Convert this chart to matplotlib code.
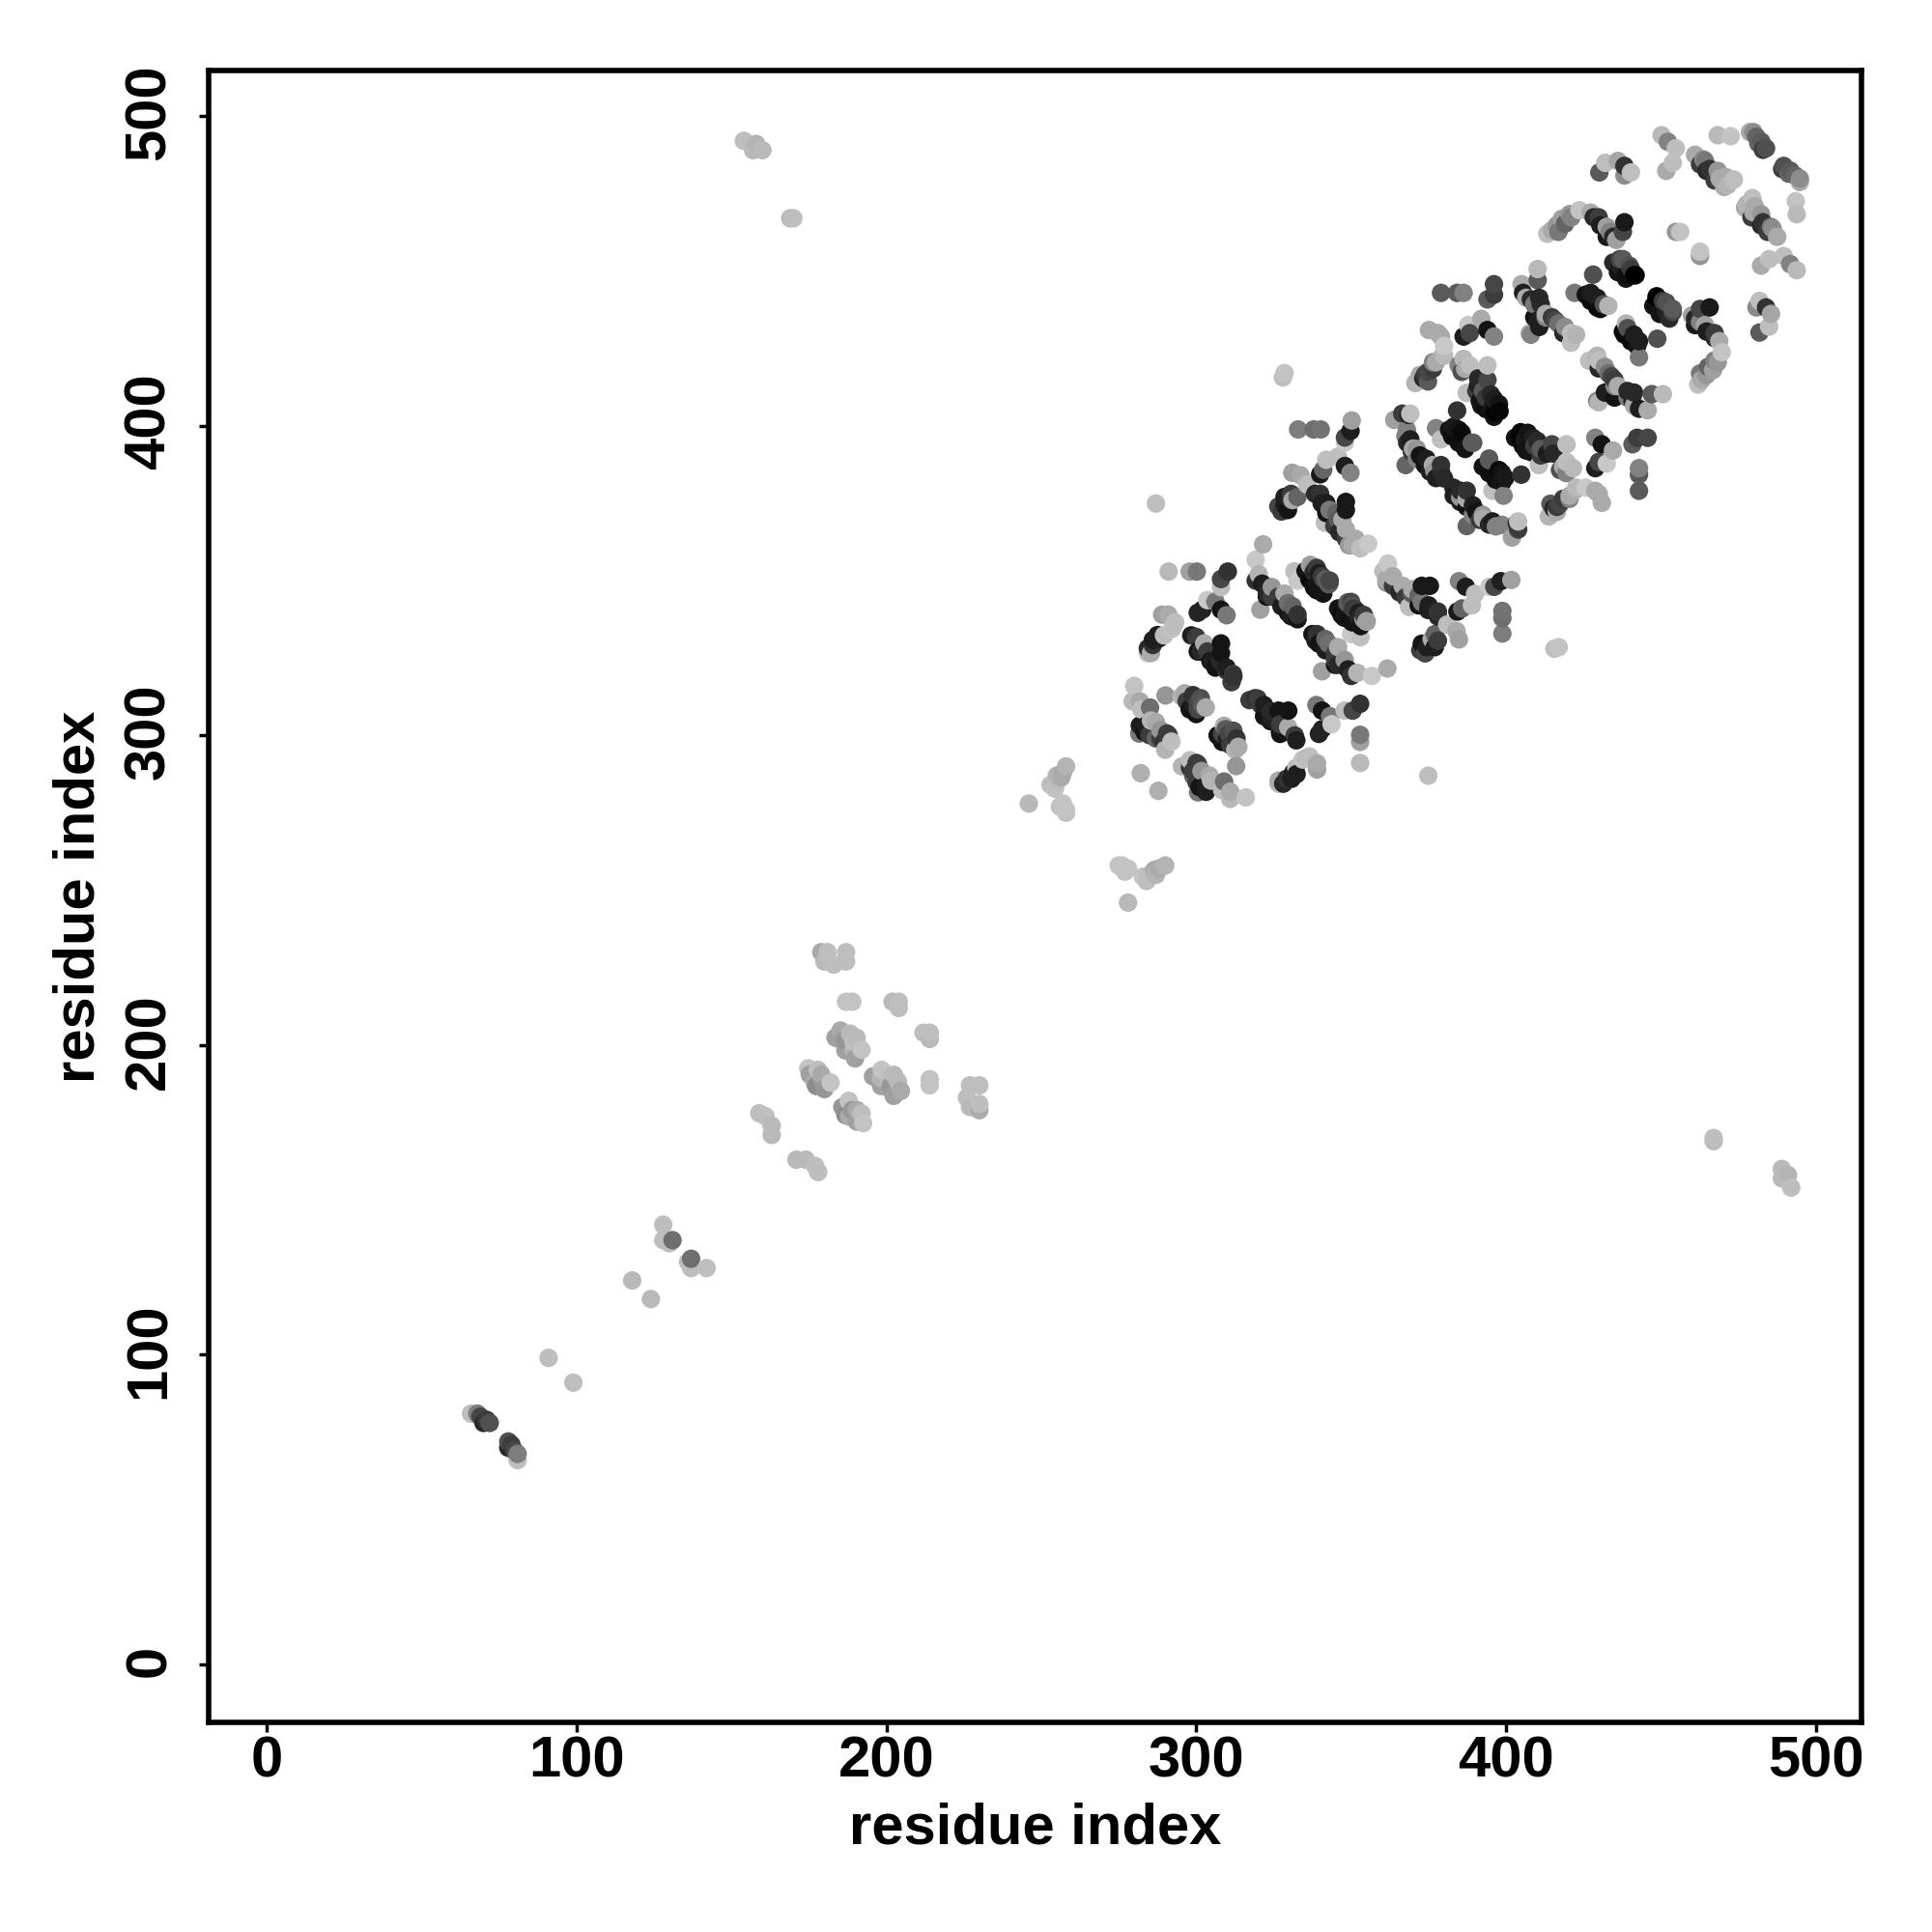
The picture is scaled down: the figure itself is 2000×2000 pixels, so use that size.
import numpy as np
import matplotlib
matplotlib.use("Agg")
import matplotlib.pyplot as plt
from matplotlib.transforms import ScaledTranslation

plt.rcParams['font.family'] = ['Liberation Sans', 'DejaVu Sans']

# contacts above the diagonal, (res_i, res_j, gray level), map is symmetric
low_contacts = [
    (66,81,190),(68,81,125),(69,80,70),(70,78,40),(71,79,60),(72,78,80),
    (91,99,190),(118,124,185),(128,142,190),(128,137,190),(130,136,190),(131,137,110),
]
mid_contacts = [
    (154,492,190),(157,489,185),(158,491,180),(160,489,185),(169,467,185),(170,467,190),
    (159,178,190),(161,177,190),(163,174,185),(163,171,185),
    (174.8,192.5,195),(175.3,190.5,160),(177.4,186.8,140),(177.9,192,190),(176.9,188,170),(179,190.5,170),(179,189,150),(180,185.8,150),(182,187.9,195),
    (179,230,170),(181,230,190),(187,230,190),(180,227,185),(183,226,190),(187,227,190),
    (187,214,195),(189,214,195),(202,214,185),(204,214,190),(204,212,190),
    (183.6,202.4,160),(185.2,204.7,170),(188.3,203.7,185),(185.7,201.4,160),(186.8,201.4,150),(186.8,198.3,160),(189.4,198.3,180),(190.4,202.4,185),(189.4,200.9,190),(189.9,195.7,160),(192,198.5,195),
    (246,278,185),(253,284,190),(254.4,282.8,195),(255,285,190),(256.5,286.5,170),(255,287,180),(257,288,170),(258,290,180),(258,275,195),(258,276,195),(256,277,195),(257,278,195),
]
helix_a = [
    (280,316,195),(279.5,311,185),(281.8,311,170),(282.3,308.4,190),(285.1,309,110),(290.1,312.9,150),
    (281.6,300.6,120),(283.9,303.2,30),(285.4,304.8,180),(288.5,301.7,150),(290.6,300.6,60),(292,298,190),(290,295.4,180),
    (282.1,287.8,175),(296.3,313.6,170),(299,310,30),(299,313,50),(300.5,310.5,70),(301.5,312,80),(303.1,309,170),
    (287,374.9,190),(291.1,352.9,185),(297.9,352.9,160),(300.2,352.9,120),(308,347.9,190),(308,350.5,70),(310.2,352.9,50),
    (300.5,339.6,35),(302,340.6,35),(303.6,343.7,200),(306.2,343.2,120),(308,340.6,20),(309.8,338.8,120),
    (285.4,326.6,170),(286,329.2,50),(288,331.3,30),(289,339,160),(289.6,332.3,190),(291,339,170),(292.7,335.4,190),
    (300,331.8,60),(301.5,327,40),(302.6,329.7,170),(305.2,324,30),(308,329.7,20),(308,326.6,20),(309.8,320.9,60),(312,319,50),(311.4,317.2,60),
    (319.2,356.7,200),(319.2,350,50),(320.2,352,180),(321.6,361.7,170),(320.7,340.6,160),(322.8,345.8,40),(324.4,347.9,150),(326.5,344.8,60),(329.6,342.7,110),(330.6,338.5,30),(332.7,339,50),
    (331.7,353,190),(332.7,350,200),(336.9,355,160),(337.9,352.6,40),(339,347.9,20),(341,350.5,60),(343,349,90),
    (348.8,342.7,90),(348.3,340.6,20),(351.4,340.6,60),(353.5,338.5,40),(355,336.7,170),
    (328,415.6,190),(328.5,417,195),(332.9,398.8,125),(337.9,398.8,110),(340.2,398.8,115),(348,394.6,200),(348,396.2,70),(349.8,398.3,30),(350.2,401.7,160),
    (342,389,190),(345.7,390,190),(340,384.3,25),(341,385.8,100),(348,387,30),(349.8,384.8,130),
    (331,384.8,160),(333.7,384,170),(335.8,381,190),(332.7,377,100),(330.6,376,50),(328.5,374.4,30),(327.5,372.3,60),
    (340,378,50),(342,375,30),(343,372.8,120),(345.7,369.7,90),(341.5,368.7,190),(348.3,375.4,25),(348.3,372.8,25),(348.3,366.6,170),(349.3,361.4,150),(351.4,363.5,170),(353,360.4,190),(355.5,361.9,200),
]
helix_a_dense = [
    (326.5,373.9,70),(328.5,377,30),(330.6,378,60),(329.6,372.8,20),(331.1,376,170),
    (338.4,378,40),(340.5,374.9,30),(342,371.8,20),(344.6,367.6,60),(346.2,365.6,40),(348.3,363.5,60),(350.4,361.4,170),(345.2,371.8,100),(347.2,369.7,170),
    (321.3,349,30),(322.8,344.8,20),(324.4,344.8,60),(327.5,341.7,30),(329.6,339.6,20),(328.5,345.8,170),(331.1,341.7,100),(332.7,337.5,20),
    (335.3,353.1,20),(336.9,350,10),(338.9,346.9,10),(341,345.8,20),(343.1,350,70),(338.9,354.1,60),
    (346.2,340.6,20),(347.8,338,20),(350.4,336.5,20),(350.4,341.7,90),(352.4,339.6,30),(354,337.5,150),
    (284.4,328.1,40),(286,330.8,30),(287.5,332.4,30),(284.4,326.6,190),(292.2,334.4,195),(293.2,336.5,190),
    (298.4,332.3,30),(300.5,327.1,20),(303.6,327.1,60),(304.6,324,15),(306.2,321.9,20),(307.8,324,40),(309.8,321.9,30),(311.9,319.8,60),
    (281.8,303.2,30),(283.3,301.1,20),(284.9,300.1,60),(287,299,100),(288.5,299,60),(287,304.3,170),(289.6,298,50),(291.1,300.1,60),
    (295.3,312.6,180),(296.9,311,60),(297.9,308.4,20),(300,306.9,20),(302,309.5,90),(300.5,308.4,70),
]
helix_b = [
    (363.9,401.9,160),(366.5,403.9,60),(368.5,403.5,40),(369.1,403.9,190),(368,398.7,130),(367.5,396.7,130),(369.1,395.6,30),(370,392.6,170),(367.6,387.3,100),(371.2,392.5,150),(374.3,389.3,30),(376.4,387.3,170),(379,385.2,40),
    (370.7,413.8,180),(373.3,415.3,40),(374.8,417.4,70),(376.4,420.5,130),(380,422.6,185),(375.1,430.9,170),(379,428.8,170),(380,425.7,200),
    (377.4,399.2,130),(379,395.6,190),(383.1,399.7,25),(384.2,404.9,50),(385.7,397.7,10),(388.9,394.5,90),
    (379,442.9,90),(384.2,442.9,90),(386.3,442.9,130),(394,440.8,90),(396.1,442.3,60),(396.1,445.7,70),
    (386.3,428.8,30),(387.8,432.5,200),(388.3,429.9,70),(392,434.5,170),(394,430.9,20),(396.1,428.8,130),
    (385.7,417.4,80),(386.3,421.6,185),(388.3,419.5,190),(387.3,410.6,190),(391,413.2,30),(392.5,411.2,90),(392,406.5,20),(394,419.5,190),(394,414.8,70),(396.1,408.6,30),(396.1,402.9,20),(397.9,404.7,5),
    (405,445.7,170),(405.5,442.9,30),(408,440.8,40),(410.2,450.6,185),(410.2,447,90),(411.2,439.2,40),(408,429.4,130),(410.2,434,30),(412.8,436.1,170),(415.9,434,70),(419,431.9,140),(421,426.8,190),(422.6,429.4,180),
    (422.1,442.9,120),(427.3,442.9,30),(428.1,448.8,80),(429.4,441.3,30),(430.4,437.7,10),(433,438.7,180),
    (413.3,462,190),(416.4,464.7,150),(418,466.8,160),(420.5,468.3,150),(423.7,469.6,195),(427.3,468.8,170),(429.9,467.3,60),(432.5,464.2,160),(435.6,460,160),(437.7,462.6,70),(438.2,465.7,25),
    (436.7,451.7,30),(437.7,453.8,90),(438.7,447.5,20),(439.8,451.7,80),(441.8,448.6,0),
    (430.1,481.8,90),(432,484.9,190),(436.1,485.5,165),(438.2,480.8,140),(438.2,483.9,50),(440.3,481.8,190),
    (450.2,493.8,185),(451.7,482.3,170),(452.2,491.7,130),(453.8,484.9,190),(454.8,489.6,190),(454.8,462.6,150),(456.2,462.6,195),
    (461,487.5,170),(463.7,486,140),(465.7,482.9,50),(468.3,482.3,150),(470.4,477.1,170),(470.9,480.3,170),(473.5,479.5,190),
    (468.3,493.8,185),(472.5,493.5,195),(478.7,494.8,170),(480.8,493.3,100),(482.4,491.7,90),(483.9,489.6,80),
]
helix_b_dense = [
    (381.6,398.7,20),(382.6,396.6,15),(384.7,394.5,15),(386.8,392.5,20),(389.4,394.5,90),(384.7,398.7,20),
    (425.7,442.3,20),(427.3,440.3,10),(429.4,438.2,10),(431.5,439.2,80),
    (436.7,453.8,70),(434.6,452.7,40),(436.1,449.6,20),(438.7,448.6,15),(440.3,450.6,60),(441.3,448.6,5),
    (406.5,441.3,170),(409.1,439.2,120),(410.7,441.3,40),(409.1,435,20),(410.7,431.9,30),(412.8,435,130),(414.8,435,60),(416.9,433,110),(418.5,429.9,40),(421,429.9,190),(407.6,429.9,180),
    (414.8,463.1,170),(416.9,462.6,120),(419,465.2,100),(421.1,467.3,130),(428.3,467.3,40),(430.4,464.7,30),(433.5,462.6,130),(432.5,461,25),(434.6,461,40),
    (462.6,484.4,60),(464.7,482.3,40),(467.3,479.2,60),(464.2,485.5,120),(468.9,479.8,170),(471.5,477.7,180),
    (479.8,494.8,140),(481.4,491.2,100),(482.9,489.1,60),
    (372.2,416.4,170),(373.8,416.4,60),(374.8,414.3,90),(376.4,418.4,60),(377.4,420.5,170),(379.5,422.6,170),(378,429.9,170),
    (384.7,419.5,130),(386.8,418.4,170),(391,415.3,40),(390.4,411.2,60),(391.5,408,20),(393.5,409.1,60),(395.1,410.1,40),(393.5,405.4,15),(395.6,406,25),(397.7,407,20),(396.1,404.4,5),
    (368.1,394.5,40),(369.6,391.5,60),(372.2,390.4,20),(371.2,389.3,130),(373.8,387.3,20),(375.4,385.2,30),(377.4,383.1,30),(379,387.3,50),(376.9,385.2,150),(380,383,40),
]

xticks = [0, 100, 200, 300, 400, 500]
yticks = [0, 100, 200, 300, 400, 500]

contacts = np.array(low_contacts + mid_contacts + helix_a + helix_a_dense + helix_b + helix_b_dense)
res_i = np.concatenate([contacts[:, 0], contacts[:, 1]])
res_j = np.concatenate([contacts[:, 1], contacts[:, 0]])
gray = np.concatenate([contacts[:, 2], contacts[:, 2]])
order = np.lexsort((res_j, res_i))

fig = plt.figure(figsize=(20, 20), dpi=100)
ax = fig.add_axes([0.108, 0.1085, 0.8555, 0.855])
ax.scatter(res_i[order], res_j[order], c=gray[order], cmap='gray', vmin=0, vmax=255,
           s=190, linewidths=0, zorder=2)
ax.set_xlim(-18.7, 514.7)
ax.set_ylim(-18.7, 514.7)

ax.set_xticks(xticks)
ax.set_yticks(yticks)
ax.tick_params(axis='both', length=7, width=2.5, labelsize=43)
ax.tick_params(axis='x', pad=3)
ax.tick_params(axis='y', pad=17)
for lab in ax.get_xticklabels() + ax.get_yticklabels():
    lab.set_fontweight('bold')
shift_up = ScaledTranslation(0, 3 / 72, fig.dpi_scale_trans)
for lab in ax.get_yticklabels():
    lab.set_rotation(90)
    lab.set_va('center')
    lab.set_transform(lab.get_transform() + shift_up)
for sp in ax.spines.values():
    sp.set_linewidth(4)

ax.set_xlabel('residue index', fontsize=43, fontweight='bold', labelpad=10)
ax.set_ylabel('residue index', fontsize=43, fontweight='bold', labelpad=13)

fig.savefig('out.png', dpi=100, facecolor='white')
